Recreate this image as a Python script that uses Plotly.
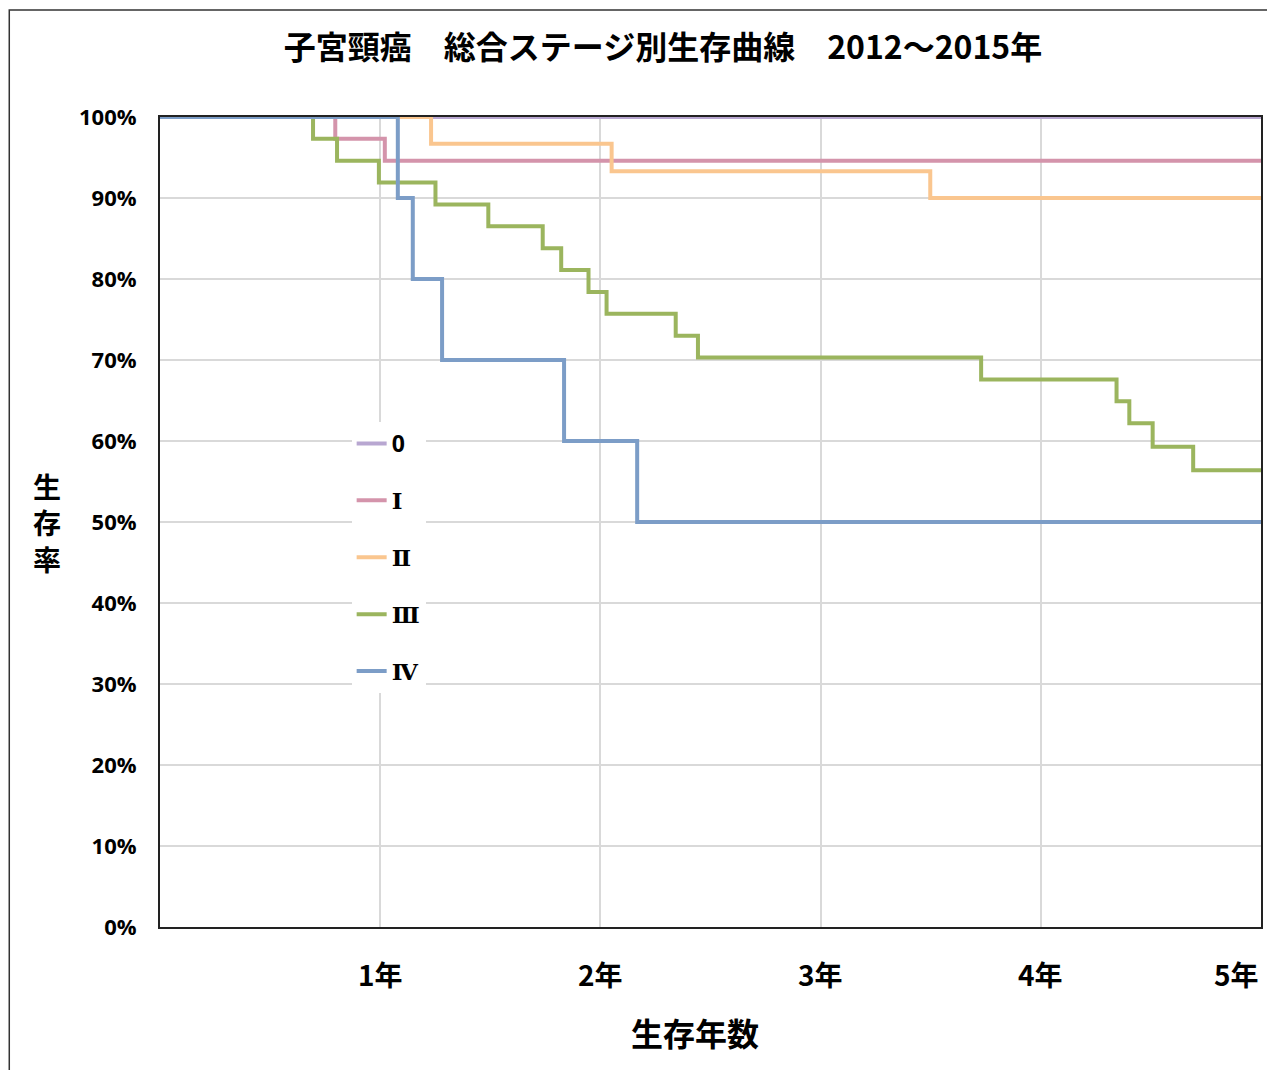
import plotly.graph_objects as go

# ---- data (years, survival %) ----
stage_names = ["<span style='font-family:Open Sans'>0</span>", "Ⅰ", "Ⅱ", "Ⅲ", "Ⅳ"]

t0 = [0, 5]
s0 = [100, 100]

t1 = [0, 0.796, 1.021, 5]
s1 = [100, 97.3, 94.6, 94.6]

t2 = [0, 1.231, 2.051, 3.498, 5]
s2 = [100, 96.7, 93.3, 90.0, 90.0]

t3 = [0, 0.695, 0.804, 0.994, 1.251, 1.491, 1.738, 1.822, 1.946, 2.028,
      2.342, 2.443, 3.729, 4.344, 4.402, 4.508, 4.692, 5]
s3 = [100, 97.3, 94.6, 91.9, 89.2, 86.5, 83.8, 81.1, 78.4, 75.7,
      73.0, 70.3, 67.6, 64.9, 62.2, 59.3, 56.4, 56.4]

t4 = [0, 1.080, 1.148, 1.281, 1.835, 2.167, 5]
s4 = [100, 90, 80, 70, 60, 50, 50]

year_ticks = [1, 2, 3, 4, 5]
year_labels = ["1年", "2年", "3年", "4年", "5年"]
pct_ticks = [0, 10, 20, 30, 40, 50, 60, 70, 80, 90, 100]
pct_labels = ["0%", "10%", "20%", "30%", "40%", "50%", "60%", "70%", "80%", "90%", "100%"]

colors = ["#B8A7D1", "#D494AB", "#FAC68F", "#9BB55E", "#7C9DC7"]

CJK = "Noto Sans CJK JP"

fig = go.Figure()
for i, (t, s) in enumerate([(t0, s0), (t1, s1), (t2, s2), (t3, s3), (t4, s4)]):
    fig.add_trace(go.Scatter(
        x=t, y=s, mode="lines", name=stage_names[i],
        line=dict(color=colors[i], width=4, shape="hv"),
        legendgroup=f"g{i}",
    ))

# page body margin offset (browser default 8px)
OX, OY = 8, 8
W, H = 1267, 1062
L, R, T, B = 152, 12, 109, 143
pw, ph = W - L - R, H - T - B

def px_x(px):
    return (px - OX - L) / pw

def px_y(py):
    return (H - B - (py - OY)) / ph

fig.update_layout(
    width=W, height=H,
    margin=dict(l=L, r=R, t=T, b=B),
    paper_bgcolor="white", plot_bgcolor="white",
    font=dict(family=CJK, color="black"),
    title=dict(
        text="<b>子宮頸癌　総合ステージ別生存曲線　2012～2015年</b>",
        x=(663 - OX) / W, xref="container", xanchor="center",
        y=1 - (48 - OY) / H, yref="container", yanchor="middle",
        font=dict(family=CJK, size=32, color="black"),
    ),
    xaxis=dict(
        range=[0, 5], tickvals=year_ticks, showticklabels=False,
        showgrid=True, gridcolor="#D9D9D9", gridwidth=1.5,
        showline=True, linecolor="#222222", linewidth=2, mirror=True,
        ticks="", zeroline=False,
    ),
    yaxis=dict(
        range=[0, 100], tickvals=pct_ticks, ticktext=pct_labels,
        showgrid=True, gridcolor="#D9D9D9", gridwidth=1.5,
        showline=True, linecolor="#222222", linewidth=2, mirror=True,
        ticks="", zeroline=False, ticklabelstandoff=17,
        tickfont=dict(family="Open Sans", size=22, color="black", weight="bold"),
    ),
    legend=dict(
        x=px_x(352), y=px_y(422), xanchor="left", yanchor="top",
        bgcolor="white", borderwidth=0,
        traceorder="grouped", tracegroupgap=24,
        font=dict(family="DejaVu Serif, " + CJK, size=23, color="black", weight="bold"),
        itemwidth=30,
    ),
    showlegend=True,
)

# x tick labels
for v, lab in zip(year_ticks, year_labels):
    fig.add_annotation(
        x=v, xref="x", y=px_y(974), yref="paper",
        text=f"<b>{lab}</b>", showarrow=False,
        xanchor="right" if v == 5 else "center", yanchor="middle",
        font=dict(family=CJK, size=28, color="black"),
    )

# axis titles
fig.add_annotation(
    x=px_x(696), xref="paper", y=px_y(1032), yref="paper",
    text="<b>生存年数</b>", showarrow=False, xanchor="center", yanchor="middle",
    font=dict(family=CJK, size=32, color="black"),
)
fig.add_annotation(
    x=px_x(47), xref="paper", y=px_y(522), yref="paper",
    text="<b>生<br>存<br>率</b>", showarrow=False, xanchor="center", yanchor="middle",
    font=dict(family=CJK, size=28, color="black"),
)

# outer chart frame
fig.add_shape(
    type="rect", xref="paper", yref="paper",
    x0=px_x(9), x1=px_x(1290), y0=px_y(1090), y1=px_y(10),
    line=dict(color="#333333", width=1.5), fillcolor="rgba(0,0,0,0)", layer="below",
)

fig.write_html("out.html")
